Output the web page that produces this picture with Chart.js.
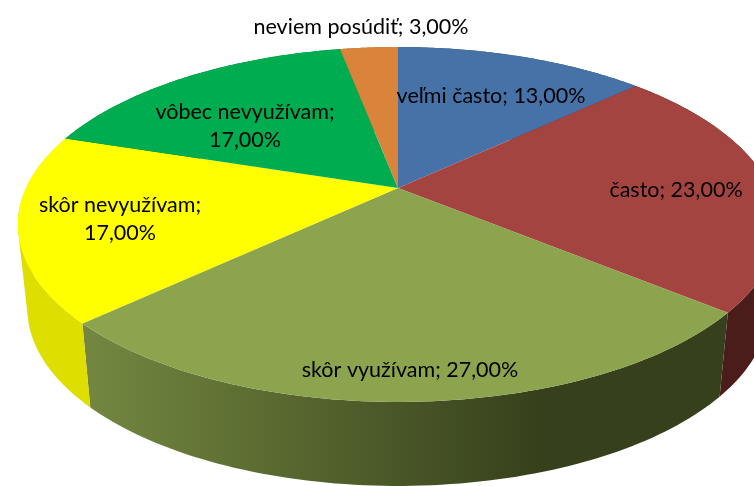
<!DOCTYPE html>
<html>
<head>
<meta charset="utf-8">
<style>
  html, body { margin: 0; padding: 0; background: #fff; overflow: hidden; }
  #chart { display: block; }
</style>
<script src="https://cdn.jsdelivr.net/npm/chart.js@4/dist/chart.umd.min.js"></script>
</head>
<body>
<canvas id="chart" width="754" height="486"></canvas>
<script>
const categories = ['veľmi často', 'často', 'skôr využívam', 'skôr nevyužívam', 'vôbec nevyužívam', 'neviem posúdiť'];
const values = [13, 23, 27, 17, 17, 3];
const topColors = ['#4672A8', '#A44441', '#8BA44D', '#FFFF00', '#00AC50', '#DA833B'];

// farby boku (od lavej strany k pravej)
const sideColors = [
  ['#2f4d72', '#2f4d72'], ['#4A1C1A', '#4A1C1A'], ['#72863F', '#36401C'],
  ['#DEDE00', '#DEDE00'], ['#007a38', '#007a38'], ['#9a5d2a', '#9a5d2a']
];

// kde sedia popisky a ci su na dva riadky
const labelAt = [[491, 96], [676, 190], [410, 370], [120, 205], [245, 112], [361, 27]];
const labelBreak = [false, false, false, true, true, false];

// perspektiva kruhu - odcitane z obrazka
const cx = 398, cy = 188, R = 372, persp = 0.2056, yA = -131.3;
const depth = 84, bottomShrink = 0.975;

const project = (u, v) => {
  const d = persp * v + 1;
  return [cx + R * u / d, (yA * v + cy) / d];
};
const onRim = (theta) => project(Math.sin(theta), Math.cos(theta));
const onBottom = (theta) => {
  const p = onRim(theta);
  return [cx + (p[0] - cx) * bottomShrink, p[1] + depth];
};

// pridá štvoruholník do cesty vždy v rovnakom smere, inak by sa prekryvy vyrušili
const addQuad = (ctx, pts) => {
  let area = 0;
  pts.forEach((p, k) => {
    const n = pts[(k + 1) % pts.length];
    area += p[0] * n[1] - n[0] * p[1];
  });
  const ordered = area < 0 ? pts.slice().reverse() : pts;
  ctx.moveTo(ordered[0][0], ordered[0][1]);
  ordered.slice(1).forEach(p => ctx.lineTo(p[0], p[1]));
  ctx.closePath();
};

const pie3d = {
  id: 'pie3d',
  beforeDatasetsDraw(chart) {
    const ctx = chart.ctx;
    const arcs = chart.getDatasetMeta(0).data;
    const angles = arcs.map(a => [a.startAngle + Math.PI / 2, a.endAngle + Math.PI / 2]);
    const steps = 80;

    // bok
    angles.forEach(([a0, a1], i) => {
      const g = ctx.createLinearGradient(95, 0, 540, 0);
      g.addColorStop(0, sideColors[i][0]);
      g.addColorStop(1, sideColors[i][1]);
      ctx.fillStyle = g;
      ctx.beginPath();
      for (let s = 0; s < steps; s++) {
        const t0 = a0 + (a1 - a0) * s / steps;
        const t1 = a0 + (a1 - a0) * (s + 1) / steps;
        addQuad(ctx, [onRim(t0), onRim(t1), onBottom(t1), onBottom(t0)]);
      }
      ctx.fill();
    });

    // vrch
    angles.forEach(([a0, a1], i) => {
      ctx.fillStyle = arcs[i].options.backgroundColor;
      ctx.beginPath();
      ctx.moveTo(cx, cy);
      for (let s = 0; s <= steps; s++) {
        const p = onRim(a0 + (a1 - a0) * s / steps);
        ctx.lineTo(p[0], p[1]);
      }
      ctx.closePath();
      ctx.fill();
    });
    return false; // plochy kruh nekreslit
  },
  afterDraw(chart) {
    const ctx = chart.ctx;
    ctx.fillStyle = '#000';
    ctx.font = '21.5px Lato';
    ctx.textAlign = 'center';
    ctx.textBaseline = 'middle';
    categories.forEach((name, i) => {
      const pct = values[i].toFixed(2).replace('.', ',') + '%';
      const [x, y] = labelAt[i];
      if (labelBreak[i]) {
        ctx.fillText(name + ';', x, y);
        ctx.fillText(pct, x, y + 28);
      } else {
        ctx.fillText(name + '; ' + pct, x, y);
      }
    });
  }
};

new Chart(document.getElementById('chart'), {
  type: 'pie',
  data: {
    labels: categories,
    datasets: [{ data: values, backgroundColor: topColors, borderWidth: 0 }]
  },
  options: {
    responsive: false,
    animation: false,
    plugins: { legend: { display: false }, tooltip: { enabled: false } }
  },
  plugins: [pie3d]
});
</script>
</body>
</html>
